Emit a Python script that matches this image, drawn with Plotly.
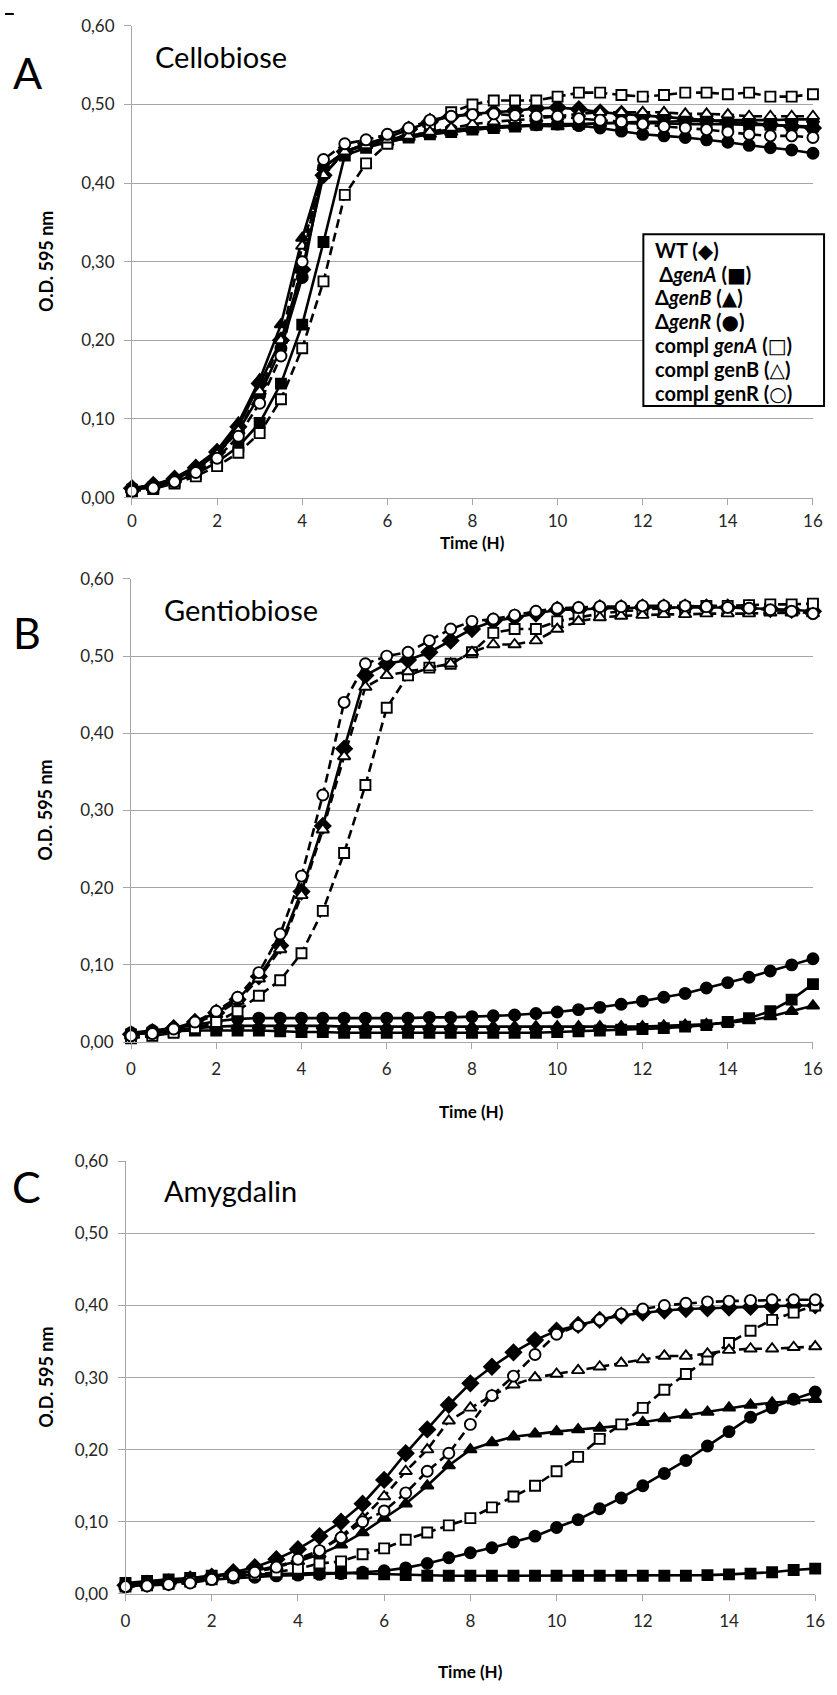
import plotly.graph_objects as go

# ---------------------------------------------------------------- data
hours = [0, 0.5, 1, 1.5, 2, 2.5, 3, 3.5, 4, 4.5, 5, 5.5, 6, 6.5, 7, 7.5, 8,
         8.5, 9, 9.5, 10, 10.5, 11, 11.5, 12, 12.5, 13, 13.5, 14, 14.5, 15, 15.5, 16]

series_names = ["WT", "genA", "genB", "genR", "compl_genA", "compl_genB", "compl_genR"]

# Cellobiose (O.D. 595 nm)
cello_wt = [0.012, 0.016, 0.024, 0.038, 0.058, 0.090, 0.145, 0.200, 0.290, 0.410, 0.440, 0.450, 0.458,
            0.468, 0.478, 0.485, 0.488, 0.490, 0.492, 0.495, 0.496, 0.494, 0.490, 0.488, 0.486, 0.484,
            0.482, 0.480, 0.478, 0.476, 0.474, 0.472, 0.470]
cello_genA = [0.010, 0.013, 0.020, 0.030, 0.045, 0.065, 0.095, 0.145, 0.220, 0.325, 0.435, 0.445, 0.452,
              0.458, 0.462, 0.465, 0.468, 0.470, 0.472, 0.474, 0.475, 0.475, 0.476, 0.476, 0.476, 0.476,
              0.475, 0.475, 0.475, 0.474, 0.474, 0.473, 0.472]
cello_genB = [0.012, 0.016, 0.025, 0.040, 0.060, 0.095, 0.150, 0.220, 0.330, 0.420, 0.440, 0.448, 0.452,
              0.458, 0.462, 0.465, 0.468, 0.470, 0.472, 0.473, 0.472, 0.474, 0.476, 0.477, 0.478, 0.478,
              0.479, 0.479, 0.480, 0.480, 0.480, 0.481, 0.481]
cello_genR = [0.012, 0.015, 0.023, 0.036, 0.056, 0.085, 0.130, 0.190, 0.280, 0.420, 0.440, 0.450, 0.455,
              0.460, 0.465, 0.468, 0.470, 0.472, 0.473, 0.474, 0.475, 0.473, 0.470, 0.466, 0.462, 0.460,
              0.458, 0.455, 0.452, 0.448, 0.445, 0.442, 0.438]
cello_cgenA = [0.008, 0.011, 0.018, 0.027, 0.040, 0.057, 0.082, 0.125, 0.190, 0.275, 0.385, 0.425, 0.450,
               0.465, 0.475, 0.490, 0.500, 0.505, 0.505, 0.505, 0.510, 0.515, 0.515, 0.512, 0.510, 0.512,
               0.515, 0.515, 0.513, 0.515, 0.510, 0.510, 0.513]
cello_cgenB = [0.010, 0.014, 0.022, 0.035, 0.055, 0.085, 0.135, 0.200, 0.320, 0.410, 0.440, 0.448, 0.455,
               0.460, 0.465, 0.470, 0.475, 0.478, 0.480, 0.482, 0.485, 0.488, 0.490, 0.490, 0.490, 0.490,
               0.488, 0.488, 0.487, 0.485, 0.485, 0.485, 0.485]
cello_cgenR = [0.008, 0.012, 0.020, 0.032, 0.050, 0.078, 0.120, 0.180, 0.300, 0.430, 0.450, 0.455, 0.462,
               0.470, 0.480, 0.485, 0.487, 0.488, 0.486, 0.485, 0.485, 0.482, 0.480, 0.478, 0.475, 0.472,
               0.470, 0.468, 0.465, 0.462, 0.460, 0.460, 0.458]

# Gentiobiose (O.D. 595 nm)
gentio_wt = [0.010, 0.013, 0.018, 0.026, 0.038, 0.055, 0.085, 0.125, 0.195, 0.280, 0.380, 0.475, 0.490,
             0.495, 0.505, 0.520, 0.535, 0.545, 0.550, 0.555, 0.560, 0.560, 0.562, 0.562, 0.563, 0.563,
             0.563, 0.563, 0.563, 0.562, 0.561, 0.560, 0.558]
gentio_genA = [0.010, 0.012, 0.014, 0.015, 0.015, 0.015, 0.015, 0.014, 0.013, 0.013, 0.012, 0.012, 0.012,
               0.012, 0.012, 0.012, 0.012, 0.012, 0.012, 0.012, 0.013, 0.014, 0.015, 0.016, 0.017, 0.018,
               0.020, 0.022, 0.026, 0.031, 0.040, 0.055, 0.075]
gentio_genB = [0.010, 0.013, 0.016, 0.018, 0.020, 0.021, 0.021, 0.021, 0.021, 0.021, 0.020, 0.020, 0.020,
               0.020, 0.020, 0.020, 0.020, 0.020, 0.020, 0.020, 0.020, 0.020, 0.020, 0.020, 0.020, 0.021,
               0.022, 0.023, 0.025, 0.028, 0.033, 0.040, 0.047]
gentio_genR = [0.012, 0.015, 0.018, 0.022, 0.027, 0.030, 0.031, 0.031, 0.031, 0.031, 0.031, 0.031, 0.031,
               0.031, 0.032, 0.032, 0.033, 0.034, 0.035, 0.037, 0.039, 0.042, 0.045, 0.049, 0.053, 0.058,
               0.063, 0.070, 0.077, 0.084, 0.092, 0.100, 0.108]
gentio_cgenA = [0.005, 0.008, 0.012, 0.018, 0.026, 0.040, 0.060, 0.080, 0.115, 0.170, 0.245, 0.333, 0.433,
                0.475, 0.485, 0.490, 0.505, 0.530, 0.535, 0.535, 0.545, 0.550, 0.555, 0.558, 0.560, 0.562,
                0.563, 0.565, 0.565, 0.566, 0.567, 0.567, 0.568]
gentio_cgenB = [0.008, 0.011, 0.016, 0.024, 0.036, 0.053, 0.082, 0.120, 0.190, 0.275, 0.370, 0.460, 0.475,
                0.480, 0.485, 0.490, 0.505, 0.515, 0.515, 0.520, 0.535, 0.545, 0.550, 0.552, 0.553, 0.554,
                0.554, 0.555, 0.555, 0.555, 0.556, 0.556, 0.555]
gentio_cgenR = [0.008, 0.011, 0.017, 0.026, 0.040, 0.058, 0.090, 0.140, 0.215, 0.320, 0.440, 0.490, 0.500,
                0.505, 0.520, 0.535, 0.545, 0.548, 0.553, 0.558, 0.562, 0.563, 0.564, 0.564, 0.565, 0.565,
                0.565, 0.564, 0.563, 0.562, 0.560, 0.558, 0.555]

# Amygdalin (O.D. 595 nm)
amyg_wt = [0.012, 0.014, 0.016, 0.020, 0.024, 0.030, 0.037, 0.048, 0.062, 0.080, 0.100, 0.125, 0.158,
           0.195, 0.228, 0.262, 0.292, 0.315, 0.335, 0.352, 0.365, 0.373, 0.380, 0.386, 0.390, 0.393,
           0.395, 0.396, 0.397, 0.398, 0.399, 0.400, 0.400]
amyg_genA = [0.015, 0.018, 0.020, 0.022, 0.025, 0.026, 0.027, 0.028, 0.028, 0.029, 0.029, 0.028, 0.027,
             0.026, 0.025, 0.025, 0.025, 0.025, 0.025, 0.025, 0.025, 0.025, 0.025, 0.025, 0.025, 0.025,
             0.025, 0.026, 0.027, 0.028, 0.030, 0.033, 0.035]
amyg_genB = [0.012, 0.015, 0.018, 0.022, 0.025, 0.028, 0.032, 0.038, 0.045, 0.055, 0.068, 0.085, 0.105,
             0.125, 0.150, 0.178, 0.200, 0.210, 0.218, 0.222, 0.225, 0.228, 0.230, 0.233, 0.238, 0.243,
             0.248, 0.252, 0.258, 0.262, 0.265, 0.268, 0.270]
amyg_genR = [0.010, 0.012, 0.015, 0.018, 0.020, 0.022, 0.023, 0.025, 0.026, 0.027, 0.028, 0.030, 0.032,
             0.036, 0.042, 0.050, 0.057, 0.064, 0.072, 0.080, 0.092, 0.103, 0.118, 0.133, 0.150, 0.167,
             0.185, 0.205, 0.225, 0.245, 0.258, 0.270, 0.280]
amyg_cgenA = [0.010, 0.012, 0.014, 0.017, 0.020, 0.023, 0.027, 0.030, 0.035, 0.042, 0.045, 0.055, 0.063,
              0.075, 0.085, 0.095, 0.105, 0.120, 0.135, 0.150, 0.170, 0.190, 0.215, 0.235, 0.258, 0.283,
              0.305, 0.325, 0.348, 0.365, 0.380, 0.390, 0.400]
amyg_cgenB = [0.010, 0.012, 0.014, 0.017, 0.021, 0.025, 0.030, 0.037, 0.045, 0.060, 0.080, 0.105, 0.135,
              0.170, 0.200, 0.240, 0.258, 0.275, 0.290, 0.300, 0.305, 0.310, 0.315, 0.320, 0.325, 0.330,
              0.330, 0.333, 0.338, 0.340, 0.340, 0.342, 0.343]
amyg_cgenR = [0.010, 0.011, 0.013, 0.015, 0.020, 0.025, 0.030, 0.037, 0.048, 0.060, 0.078, 0.100, 0.115,
              0.140, 0.170, 0.195, 0.235, 0.275, 0.302, 0.332, 0.360, 0.372, 0.380, 0.388, 0.395, 0.400,
              0.403, 0.405, 0.406, 0.407, 0.408, 0.408, 0.408]

panel_titles = ["Cellobiose", "Gentiobiose", "Amygdalin"]
panel_letters = ["A", "B", "C"]
panel_data = [
    [cello_wt, cello_genA, cello_genB, cello_genR, cello_cgenA, cello_cgenB, cello_cgenR],
    [gentio_wt, gentio_genA, gentio_genB, gentio_genR, gentio_cgenA, gentio_cgenB, gentio_cgenR],
    [amyg_wt, amyg_genA, amyg_genB, amyg_genR, amyg_cgenA, amyg_cgenB, amyg_cgenR],
]

x_ticks = [0, 2, 4, 6, 8, 10, 12, 14, 16]
y_ticks = [0.0, 0.1, 0.2, 0.3, 0.4, 0.5, 0.6]

# key entries: label text and the marker glyph shown in brackets
legend_labels = ["WT", " Δ<i>genA</i>", "Δ<i>genB</i>", "Δ<i>genR</i>",
                 "compl <i>genA</i>", "compl genB", "compl genR"]
legend_glyphs = ["◆", "■", "▲", "●", "□", "△", "○"]

# ---------------------------------------------------------------- styling
W, H = 837, 1695
FONT = "Lato"
GRID = "#a6a6a6"
TXT = "#262626"

# marker symbol, size, fill, line dash per strain
styles = {
    "WT":         dict(symbol="diamond",     size=12, fill="black", dash="solid"),
    "genA":       dict(symbol="square",      size=10, fill="black", dash="solid"),
    "genB":       dict(symbol="triangle-up", size=11, fill="black", dash="solid"),
    "genR":       dict(symbol="circle",      size=11, fill="black", dash="solid"),
    "compl_genA": dict(symbol="square",      size=10, fill="white", dash="9px,5px"),
    "compl_genB": dict(symbol="triangle-up", size=11, fill="white", dash="9px,5px"),
    "compl_genR": dict(symbol="circle",      size=11, fill="white", dash="9px,5px"),
}

# plot-area boxes in pixels: left, right, top, bottom
boxes = [
    (129.3, 822.7, 15.0, 492.7),
    (128.3, 822.7, 575.0, 1044.0),
    (122.7, 825.0, 1164.7, 1602.7),
]
title_pos = [(151, 46), (160, 606), (160, 1194)]
letter_pos = [(23, 62), (22, 629), (22, 1190)]
time_label_y = [538, 1114, 1681]
x_label_standoff = [2, 6, 6]


def px(x):
    return x / W


def py(y):
    return 1 - y / H


fig = go.Figure()
annotations = []
shapes = []

for i, (box, series) in enumerate(zip(boxes, panel_data)):
    left, right, top, bottom = box
    n = "" if i == 0 else str(i + 1)
    xa, ya = "x" + n, "y" + n

    for name, values in zip(series_names, series):
        st = styles[name]
        fig.add_trace(go.Scatter(
            x=hours, y=values, xaxis=xa, yaxis=ya, mode="lines+markers",
            name=name, showlegend=False, cliponaxis=False,
            line=dict(color="black", width=2.6, dash=st["dash"]),
            marker=dict(symbol=st["symbol"], size=st["size"], color=st["fill"],
                        line=dict(color="black", width=1.9)),
        ))

    fig.update_layout(**{
        "xaxis" + n: dict(
            domain=[px(left), px(right)], anchor=ya, range=[0, 16],
            tickvals=x_ticks, ticktext=[str(t) for t in x_ticks],
            ticks="outside", ticklen=6, tickcolor=GRID, tickwidth=1,
            showline=True, linecolor=GRID, linewidth=1, showgrid=False, zeroline=False,
            tickfont=dict(family=FONT, size=17, color=TXT),
            ticklabelstandoff=x_label_standoff[i],
        ),
        "yaxis" + n: dict(
            domain=[py(bottom), py(top)], anchor=xa, range=[0, 0.6],
            tickvals=y_ticks, tickformat=".2f",
            ticks="outside", ticklen=7, tickcolor=GRID, tickwidth=1,
            showline=True, linecolor=GRID, linewidth=1,
            showgrid=True, gridcolor=GRID, gridwidth=1, zeroline=False,
            tickfont=dict(family=FONT, size=17, color=TXT), ticklabelstandoff=6,
        ),
    })

    cx, cy = (left + right) / 2, (top + bottom) / 2
    annotations += [
        dict(x=px(41), y=py(cy), xref="paper", yref="paper", text="<b>O.D. 595 nm</b>",
             textangle=-90, showarrow=False, xanchor="center", yanchor="middle",
             font=dict(family=FONT, size=18, color="black")),
        dict(x=px(cx), y=py(time_label_y[i]), xref="paper", yref="paper", text="<b>Time (H)</b>",
             showarrow=False, xanchor="center", yanchor="middle",
             font=dict(family=FONT, size=17, color="black")),
        dict(x=px(title_pos[i][0]), y=py(title_pos[i][1]), xref="paper", yref="paper",
             text=panel_titles[i], showarrow=False, xanchor="left", yanchor="middle",
             font=dict(family=FONT, size=29, color="black")),
        dict(x=px(letter_pos[i][0]), y=py(letter_pos[i][1]), xref="paper", yref="paper",
             text=panel_letters[i], showarrow=False, xanchor="center", yanchor="middle",
             font=dict(family=FONT, size=43, color="black")),
    ]

# key box inside the Cellobiose panel
shapes.append(dict(type="rect", xref="paper", yref="paper", layer="above",
                   x0=px(650), x1=px(834), y0=py(226), y1=py(400),
                   line=dict(color="black", width=2), fillcolor="white"))
for k, (label, glyph) in enumerate(zip(legend_labels, legend_glyphs)):
    text = ("<b>" + label + " (<span style=\"font-family:DejaVu Sans\">" + glyph
            + "</span>)</b>")
    annotations.append(dict(x=px(660), y=py(242 + 24.3 * k), xref="paper", yref="paper",
                            text=text, showarrow=False, xanchor="left", yanchor="middle",
                            font=dict(family=FONT, size=20, color="black")))

# small mark at the top-left corner
shapes.append(dict(type="line", xref="paper", yref="paper",
                   x0=0, x1=px(9), y0=py(3), y1=py(3), line=dict(color="black", width=2)))

fig.update_layout(
    width=W, height=H, margin=dict(l=0, r=0, t=0, b=0),
    paper_bgcolor="white", plot_bgcolor="white",
    separators=",.", font=dict(family=FONT, color=TXT),
    annotations=annotations, shapes=shapes, showlegend=False,
)

fig.write_html("out.html")
